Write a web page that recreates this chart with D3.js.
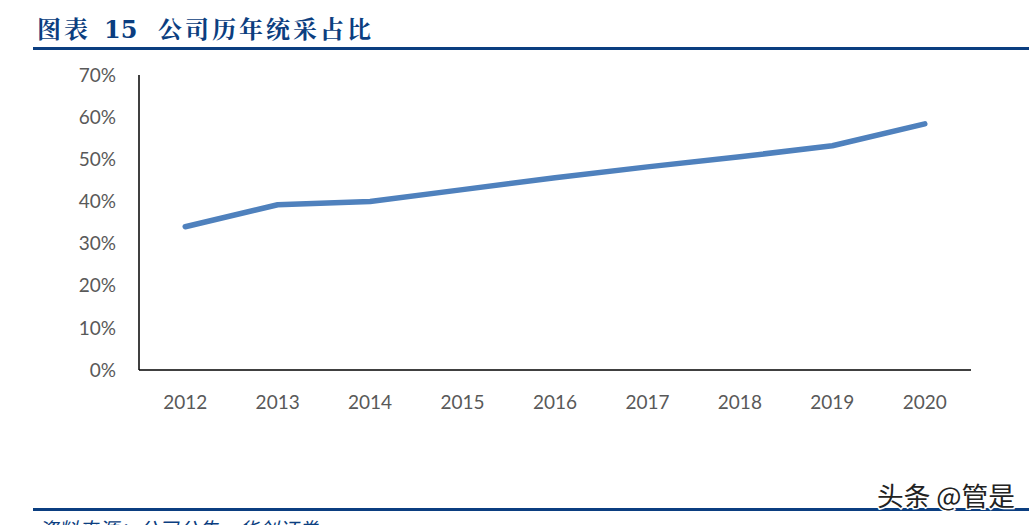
<!DOCTYPE html>
<html>
<head>
<meta charset="utf-8">
<script src="https://cdn.jsdelivr.net/npm/d3@7/dist/d3.min.js"></script>
<style>
  html, body { margin: 0; padding: 0; background: #fff; overflow: hidden; }
  svg { display: block; }
</style>
</head>
<body>
<svg id="chart"></svg>
<script>
// chart data
const years = ['2012', '2013', '2014', '2015', '2016', '2017', '2018', '2019', '2020'];
const shares = [0.34, 0.392, 0.40, 0.428, 0.456, 0.482, 0.506, 0.532, 0.584];
const yTicks = [0, 0.1, 0.2, 0.3, 0.4, 0.5, 0.6, 0.7];
const titleLabel = '图表';
const titleNum = '15';
const titleText = '公司历年统采占比';
const sourceText = '资料来源：公司公告，华创证券';
const watermark = '头条 @管是';

const width = 1029;
const height = 525;
const margin = { top: 75, right: 58, bottom: 155, left: 139 };

const svg = d3.select('#chart')
  .attr('width', width)
  .attr('height', height);

// title + rules
const titleFont = '"Noto Serif CJK SC", "Noto Sans CJK SC", serif';
const titleBlue = '#0B3E80';

svg.append('text')
  .attr('x', 37).attr('y', 38)
  .attr('fill', titleBlue)
  .attr('font-family', titleFont)
  .attr('font-weight', 'bold')
  .attr('font-size', 24)
  .attr('letter-spacing', 3)
  .text(titleLabel);

svg.append('text')
  .attr('x', 104).attr('y', 38)
  .attr('fill', titleBlue)
  .attr('font-family', '"DejaVu Serif", "Liberation Serif", serif')
  .attr('font-weight', 'bold')
  .attr('font-size', 24)
  .text(titleNum);

svg.append('text')
  .attr('x', 158).attr('y', 38)
  .attr('fill', titleBlue)
  .attr('font-family', titleFont)
  .attr('font-weight', 'bold')
  .attr('font-size', 24)
  .attr('letter-spacing', 3)
  .text(titleText);

svg.append('rect')
  .attr('x', 33).attr('y', 47)
  .attr('width', width - 33).attr('height', 3)
  .attr('fill', titleBlue);

svg.append('rect')
  .attr('x', 33).attr('y', 508)
  .attr('width', width - 33).attr('height', 3)
  .attr('fill', titleBlue);

svg.append('text')
  .attr('x', 38)
  .attr('y', 537)
  .attr('fill', titleBlue)
  .attr('font-family', '"Noto Sans CJK SC", sans-serif')
  .attr('font-style', 'italic')
  .attr('font-size', 20)
  .text(sourceText);

// scales
const x = d3.scaleBand()
  .domain(years)
  .range([margin.left, width - margin.right]);

const y = d3.scaleLinear()
  .domain([0, 0.7])
  .range([height - margin.bottom, margin.top]);

const labelFont = 'Lato, "Open Sans", sans-serif';

// y axis labels
svg.append('g')
  .selectAll('text')
  .data(yTicks)
  .enter()
  .append('text')
  .attr('x', 116)
  .attr('y', d => y(d))
  .attr('dy', '0.35em')
  .attr('text-anchor', 'end')
  .attr('fill', '#595959')
  .attr('font-family', labelFont)
  .attr('font-size', 19)
  .text(d3.format('.0%'));

// x axis labels
svg.append('g')
  .selectAll('text')
  .data(years)
  .enter()
  .append('text')
  .attr('x', d => x(d) + x.bandwidth() / 2)
  .attr('y', y(0) + 32)
  .attr('dy', '0.35em')
  .attr('text-anchor', 'middle')
  .attr('fill', '#595959')
  .attr('font-family', labelFont)
  .attr('font-size', 19)
  .text(d => d);

// axis lines
svg.append('line')
  .attr('x1', margin.left).attr('x2', margin.left)
  .attr('y1', y(0.7)).attr('y2', y(0))
  .attr('stroke', '#000')
  .attr('stroke-width', 1.5);

svg.append('line')
  .attr('x1', margin.left).attr('x2', width - margin.right)
  .attr('y1', y(0)).attr('y2', y(0))
  .attr('stroke', '#000')
  .attr('stroke-width', 1.5);

// series line
const line = d3.line()
  .x((d, i) => x(years[i]) + x.bandwidth() / 2)
  .y(d => y(d));

svg.append('path')
  .datum(shares)
  .attr('d', line)
  .attr('fill', 'none')
  .attr('stroke', '#4F81BD')
  .attr('stroke-width', 5.5)
  .attr('stroke-linecap', 'round')
  .attr('stroke-linejoin', 'round');

// watermark
svg.append('text')
  .attr('x', 1015)
  .attr('y', 506)
  .attr('text-anchor', 'end')
  .attr('fill', '#222')
  .attr('stroke', '#fff')
  .attr('stroke-width', 3)
  .attr('paint-order', 'stroke')
  .attr('font-family', '"Noto Sans CJK SC", sans-serif')
  .attr('font-size', 26)
  .attr('textLength', 138)
  .attr('lengthAdjust', 'spacingAndGlyphs')
  .text(watermark);
</script>
</body>
</html>
